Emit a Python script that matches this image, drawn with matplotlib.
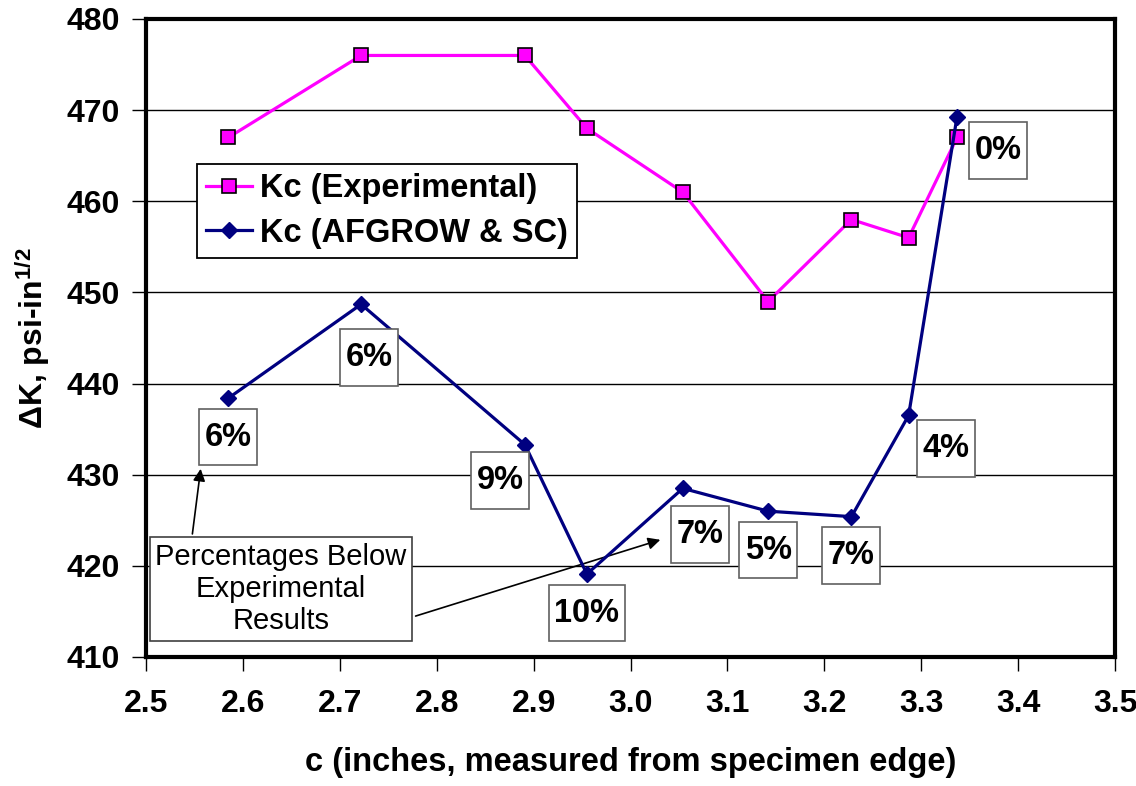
import numpy as np
import matplotlib
matplotlib.use("Agg")
import matplotlib.pyplot as plt

# --- data ---
c_inches = [2.585, 2.722, 2.891, 2.955, 3.054, 3.142, 3.228, 3.287, 3.337]
kc_experimental = [467, 476, 476, 468, 461, 449, 458, 456, 467]
kc_afgrow_sc = [438.4, 448.7, 433.3, 419.1, 428.5, 426.0, 425.4, 436.5, 469.3]
pct_labels = ["6%", "6%", "9%", "10%", "7%", "5%", "7%", "4%", "0%"]

x_ticks = [2.5, 2.6, 2.7, 2.8, 2.9, 3.0, 3.1, 3.2, 3.3, 3.4, 3.5]
y_ticks = [410, 420, 430, 440, 450, 460, 470, 480]

# offsets of the percentage boxes from their points (pixels, +y up)
label_offsets = [(0, -39), (8, -53), (-25, -36), (0, -39), (17, -46),
                 (0, -39), (0, -39), (37, -33), (41, -34)]

plt.rcParams['font.family'] = ['Liberation Sans', 'DejaVu Sans']
plt.rcParams['mathtext.fontset'] = 'custom'
plt.rcParams['mathtext.rm'] = 'Liberation Sans:bold'
plt.rcParams['mathtext.it'] = 'Liberation Sans:bold'
plt.rcParams['mathtext.bf'] = 'Liberation Sans:bold'

fig = plt.figure(figsize=(11.36, 7.86), dpi=100)
ax = fig.add_axes([146 / 1136, 1 - 657 / 786, 969 / 1136, 638 / 786])

ax.plot(c_inches, kc_experimental, color='#FF00FF', lw=2.3, marker='s',
        markersize=10, markerfacecolor='#FF00FF', markeredgecolor='black',
        markeredgewidth=1.2, label='Kc (Experimental)', zorder=3)
ax.plot(c_inches, kc_afgrow_sc, color='#000080', lw=2.3, marker='D',
        markersize=8, markerfacecolor='#000080', markeredgecolor='#000080',
        label='Kc (AFGROW & SC)', zorder=3)

ax.set_xlim(2.5, 3.5)
ax.set_ylim(410, 480)
ax.set_xticks(x_ticks)
ax.set_yticks(y_ticks)
ax.set_xticklabels([f"{t:.1f}" for t in x_ticks])
ax.tick_params(direction='out', length=10, width=1, labelsize=23, pad=9)
ax.tick_params(axis='x', pad=13)
for lab in ax.get_xticklabels() + ax.get_yticklabels():
    lab.set_fontweight('bold')

ax.grid(axis='y', color='black', lw=1)
ax.set_axisbelow(True)
for sp in ax.spines.values():
    sp.set_linewidth(3)
    sp.set_color('black')

ax.set_xlabel('c (inches, measured from specimen edge)', fontsize=23.5,
              fontweight='bold', labelpad=20)
ax.set_ylabel('ΔK, psi-in$^{1/2}$', fontsize=23, fontweight='bold', labelpad=10)

# percentage boxes
for xv, yv, txt, off in zip(c_inches, kc_afgrow_sc, pct_labels, label_offsets):
    ax.annotate(txt, xy=(xv, yv), xytext=off, textcoords='offset pixels',
                ha='center', va='center', fontsize=23.5, fontweight='bold',
                bbox=dict(boxstyle='square,pad=0.17', mutation_aspect=2.3,
                          fc='white', ec='#606060', lw=1.2), zorder=4)

# callout
ax.text(0.1393, 0.1066, 'Percentages Below\nExperimental\nResults',
        transform=ax.transAxes, ha='center', va='center', fontsize=21,
        linespacing=1.2,
        bbox=dict(boxstyle='square,pad=0.2', fc='white', ec='#404040', lw=1.2),
        zorder=5)
arrow = dict(arrowstyle='-|>', color='black', lw=1.2, mutation_scale=18)
ax.annotate('', xy=(2.5568, 430.95), xytext=(2.5475, 423.2),
            arrowprops=arrow, zorder=5)
ax.annotate('', xy=(3.0335, 422.95), xytext=(2.7755, 414.4),
            arrowprops=arrow, zorder=2)

leg = ax.legend(loc='upper left', bbox_to_anchor=(0.0526, 0.7727),
                borderaxespad=0, prop={'weight': 'bold', 'size': 23.5},
                handlelength=1.4, handletextpad=0.25, labelspacing=0.42,
                borderpad=0.28, fancybox=False, framealpha=1)
leg.get_frame().set_edgecolor('black')
leg.get_frame().set_linewidth(1.3)
leg.set_zorder(6)

fig.savefig('out.png', dpi=100)
